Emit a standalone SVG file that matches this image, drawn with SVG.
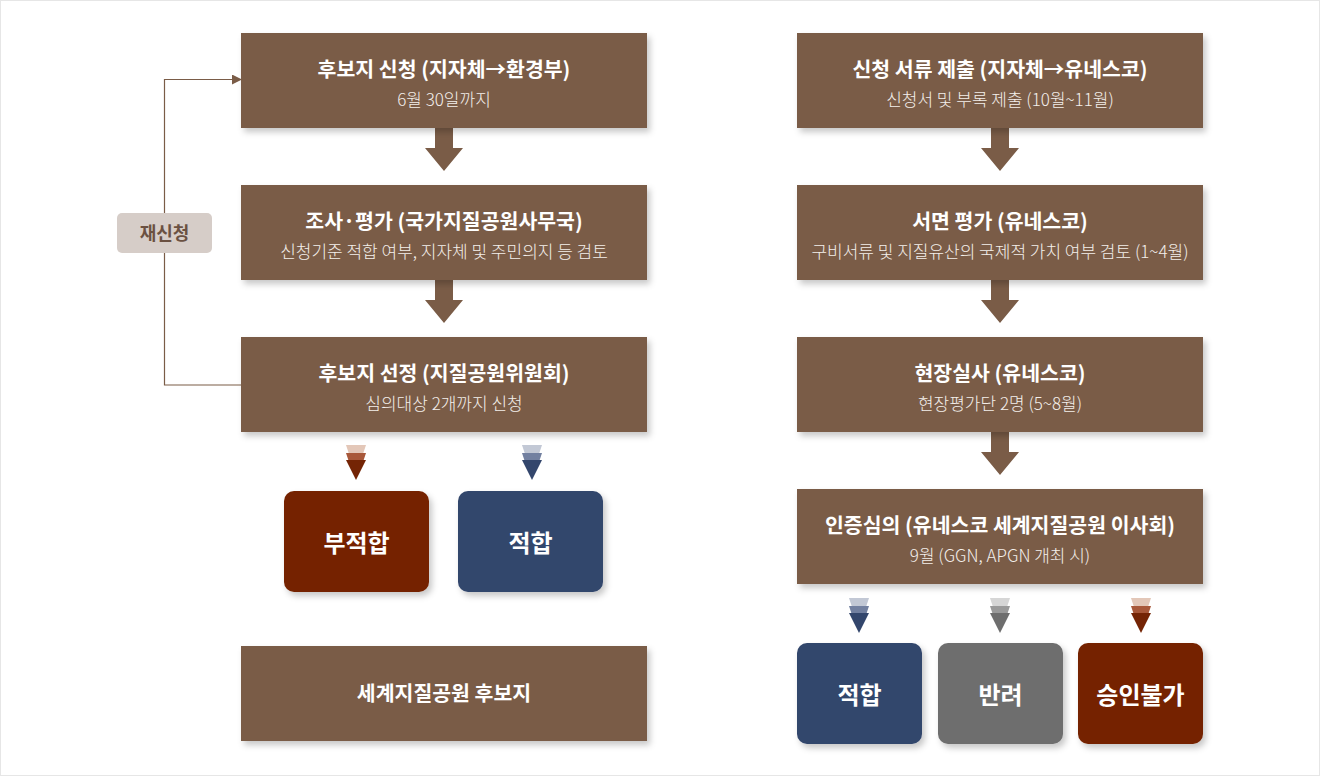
<svg xmlns="http://www.w3.org/2000/svg" width="1320" height="776" viewBox="0 0 1320 776">
<defs>
<filter id="sh" x="-10%" y="-10%" width="125%" height="130%">
<feDropShadow dx="3" dy="4" stdDeviation="3" flood-color="#000" flood-opacity="0.22"/>
</filter>
<marker id="ah" markerWidth="10" markerHeight="10" refX="9" refY="5" orient="auto" markerUnits="userSpaceOnUse">
<path d="M0,0 L10,5 L0,10 z" fill="#7a5c47"/>
</marker>
<g id="bigarrow"><path d="M-9,0 H9 V20 H19 L0,43 L-19,20 H-9 z" fill="#7a5c47"/></g>
</defs>
<style>
.box{fill:#7a5c47;filter:url(#sh)}
.t{font-family:"Noto Sans CJK KR","Noto Sans",sans-serif;font-weight:700;font-size:20.5px;fill:#fff;text-anchor:middle}
.s{font-family:"Noto Sans CJK KR","Noto Sans",sans-serif;font-weight:300;font-size:17px;fill:#f4efeb;text-anchor:middle}
.r{font-family:"Noto Sans CJK KR","Noto Sans",sans-serif;font-weight:700;font-size:24px;fill:#fff;text-anchor:middle}
</style>
<rect x="0.5" y="0.5" width="1319" height="775" fill="#fff" stroke="#e6e6e6"/>

<g id="connectors">
<use href="#bigarrow" x="444" y="128"/>
<use href="#bigarrow" x="444" y="280"/>
<use href="#bigarrow" x="1000" y="128"/>
<use href="#bigarrow" x="1000" y="280"/>
<use href="#bigarrow" x="1000" y="432"/>
<path d="M241,385 H164.5 V79.5 H241" fill="none" stroke="#7a5c47" stroke-width="1.2" marker-end="url(#ah)"/>
</g>

<g id="reapply">
<rect x="117" y="213" width="95" height="40" rx="5" fill="#d6cdc8"/>
<text x="164.5" y="240" font-family="Noto Sans CJK KR,sans-serif" font-weight="700" font-size="18" fill="#6b5142" text-anchor="middle">재신청</text>
</g>

<g id="l1"><rect class="box" x="241" y="33" width="406" height="95"/>
<text class="t" x="444" y="77">후보지 신청 (지자체→환경부)</text>
<text class="s" x="444" y="106">6월 30일까지</text></g>
<g id="l2"><rect class="box" x="241" y="185" width="406" height="95"/>
<text class="t" x="444" y="229">조사·평가 (국가지질공원사무국)</text>
<text class="s" x="444" y="258">신청기준 적합 여부, 지자체 및 주민의지 등 검토</text></g>
<g id="l3"><rect class="box" x="241" y="337" width="406" height="95"/>
<text class="t" x="444" y="381">후보지 선정 (지질공원위원회)</text>
<text class="s" x="444" y="410">심의대상 2개까지 신청</text></g>
<g id="l4"><rect class="box" x="241" y="646" width="406" height="95"/>
<text class="t" x="444" y="701">세계지질공원 후보지</text></g>

<g id="r1"><rect class="box" x="797" y="33" width="406" height="95"/>
<text class="t" x="1000" y="77">신청 서류 제출 (지자체→유네스코)</text>
<text class="s" x="1000" y="106">신청서 및 부록 제출 (10월~11월)</text></g>
<g id="r2"><rect class="box" x="797" y="185" width="406" height="95"/>
<text class="t" x="1000" y="229">서면 평가 (유네스코)</text>
<text class="s" x="1000" y="258">구비서류 및 지질유산의 국제적 가치 여부 검토 (1~4월)</text></g>
<g id="r3"><rect class="box" x="797" y="337" width="406" height="95"/>
<text class="t" x="1000" y="381">현장실사 (유네스코)</text>
<text class="s" x="1000" y="410">현장평가단 2명 (5~8월)</text></g>
<g id="r4"><rect class="box" x="797" y="489" width="406" height="95"/>
<text class="t" x="1000" y="533">인증심의 (유네스코 세계지질공원 이사회)</text>
<text class="s" x="1000" y="562">9월 (GGN, APGN 개최 시)</text></g>

<g id="ic1" transform="translate(356,445)">
<path d="M-10,0 H10 L7,9 H-7 z" fill="#e3c7b8"/>
<path d="M-10,8 H10 L7,17 H-7 z" fill="#a8583a"/>
<path d="M-10,15 H10 L0,35 z" fill="#742405"/></g>
<g id="ic2" transform="translate(532,445)">
<path d="M-10,0 H10 L7,9 H-7 z" fill="#c2c8d5"/>
<path d="M-10,8 H10 L7,17 H-7 z" fill="#7280a0"/>
<path d="M-10,15 H10 L0,35 z" fill="#33466c"/></g>
<g id="ic3" transform="translate(859,598)">
<path d="M-10,0 H10 L7,9 H-7 z" fill="#c2c8d5"/>
<path d="M-10,8 H10 L7,17 H-7 z" fill="#7280a0"/>
<path d="M-10,15 H10 L0,35 z" fill="#33466c"/></g>
<g id="ic4" transform="translate(1000,598)">
<path d="M-10,0 H10 L7,9 H-7 z" fill="#d6d6d6"/>
<path d="M-10,8 H10 L7,17 H-7 z" fill="#9a9a9a"/>
<path d="M-10,15 H10 L0,35 z" fill="#6e6e6e"/></g>
<g id="ic5" transform="translate(1141,598)">
<path d="M-10,0 H10 L7,9 H-7 z" fill="#e3c7b8"/>
<path d="M-10,8 H10 L7,17 H-7 z" fill="#a8583a"/>
<path d="M-10,15 H10 L0,35 z" fill="#742405"/></g>

<g id="res1"><rect x="284" y="491" width="145" height="101" rx="10" fill="#742405" filter="url(#sh)"/>
<text class="r" x="356.5" y="552">부적합</text></g>
<g id="res2"><rect x="458" y="491" width="145" height="101" rx="10" fill="#33466c" filter="url(#sh)"/>
<text class="r" x="530.5" y="552">적합</text></g>
<g id="res3"><rect x="797" y="643" width="125" height="101" rx="10" fill="#33466c" filter="url(#sh)"/>
<text class="r" x="859.5" y="704">적합</text></g>
<g id="res4"><rect x="938" y="643" width="125" height="101" rx="10" fill="#6e6e6e" filter="url(#sh)"/>
<text class="r" x="1000.5" y="704">반려</text></g>
<g id="res5"><rect x="1078" y="643" width="125" height="101" rx="10" fill="#742405" filter="url(#sh)"/>
<text class="r" x="1140.5" y="704">승인불가</text></g>
</svg>
